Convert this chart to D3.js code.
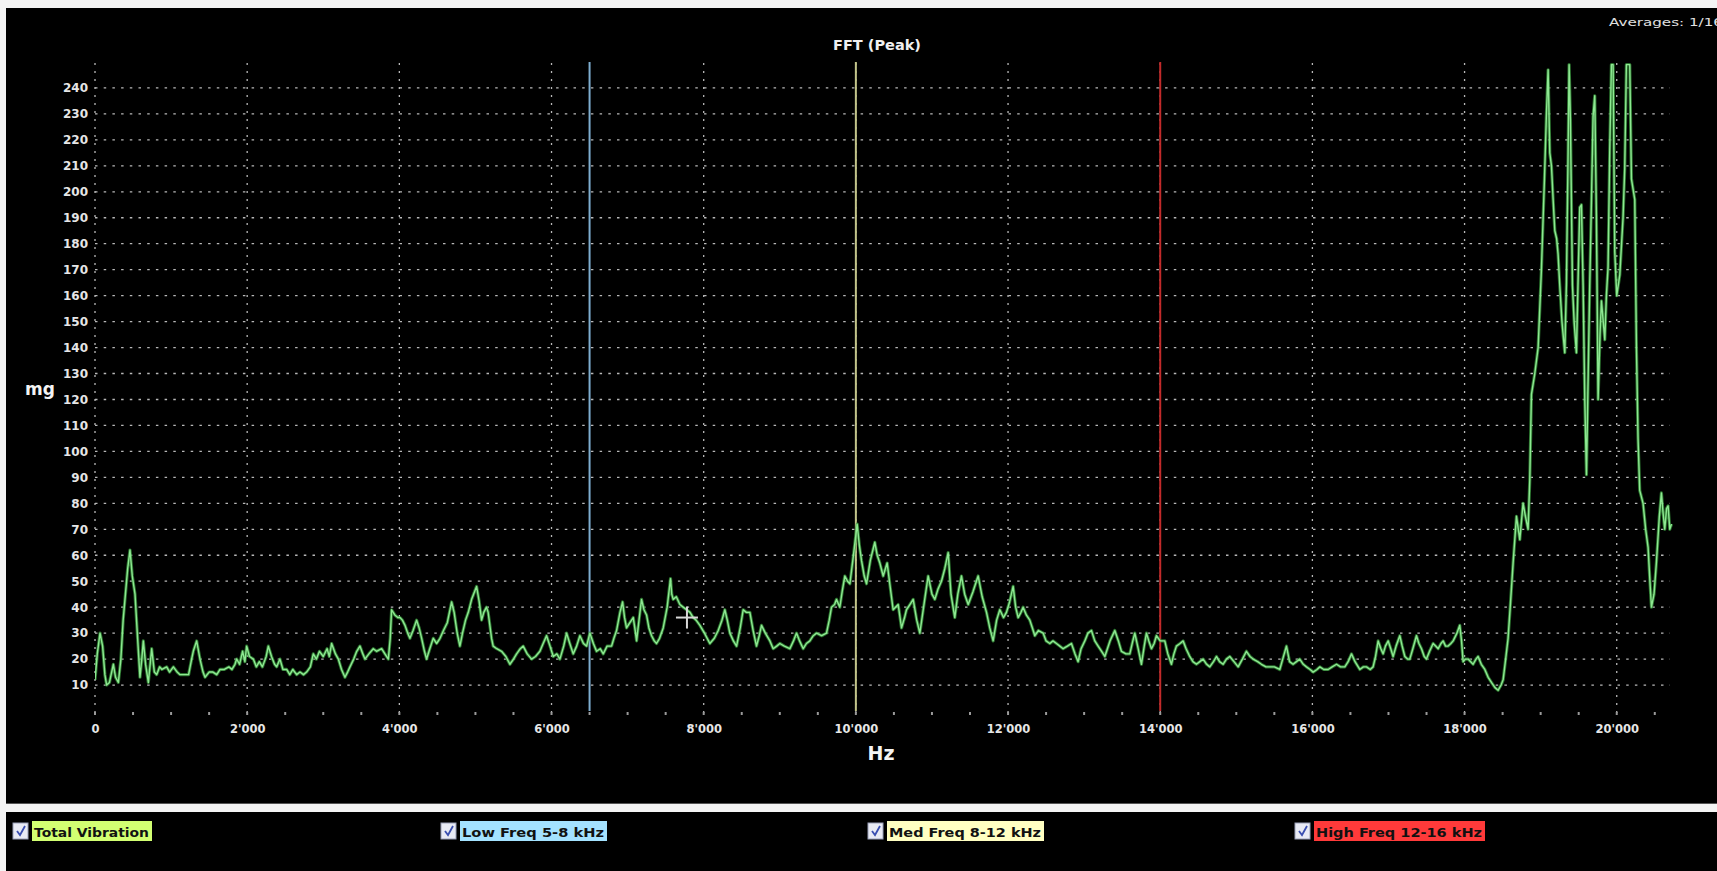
<!DOCTYPE html>
<html>
<head>
<meta charset="utf-8">
<script src="https://d3js.org/d3.v7.min.js"></script>
<style>
  html, body { margin: 0; padding: 0; background: #fff; }
  svg { display: block; }
  text { font-family: "DejaVu Sans", sans-serif; }
</style>
</head>
<body>
<div id="chart"></div>
<script>
// Frequency (Hz) and amplitude (mg)
const freqHz = [
  0, 30, 66, 100, 130, 153, 190, 241, 270, 307, 340, 370, 400, 430, 460, 490, 526, 560, 591, 615,
  635, 665, 701, 725, 745, 780, 810, 850, 880, 942, 980, 1030, 1080, 1117, 1170, 1230, 1270, 1292, 1336, 1380,
  1420, 1446, 1500, 1550, 1600, 1643, 1700, 1760, 1800, 1840, 1862, 1900, 1940, 1970, 1993, 2030, 2081, 2120, 2160, 2200,
  2250, 2278, 2320, 2360, 2387, 2431, 2470, 2519, 2560, 2600, 2650, 2694, 2740, 2781, 2830, 2869, 2910, 2950, 3000, 3050,
  3080, 3110, 3160, 3198, 3240, 3285, 3320, 3351, 3400, 3440, 3482, 3520, 3548, 3600, 3657, 3700, 3767, 3810, 3855, 3880,
  3898, 3940, 3980, 4008, 4040, 4074, 4110, 4139, 4180, 4227, 4260, 4293, 4330, 4358, 4400, 4446, 4490, 4534, 4580, 4630,
  4687, 4720, 4760, 4796, 4830, 4870, 4906, 4950, 5015, 5050, 5081, 5110, 5145, 5167, 5212, 5233, 5280, 5343, 5400, 5453,
  5500, 5541, 5590, 5628, 5680, 5738, 5790, 5847, 5890, 5935, 5980, 6023, 6070, 6110, 6160, 6198, 6240, 6285, 6330, 6373,
  6420, 6461, 6504, 6550, 6592, 6640, 6680, 6730, 6789, 6820, 6855, 6900, 6934, 6960, 6986, 7030, 7074, 7100, 7118, 7150,
  7183, 7215, 7249, 7280, 7315, 7350, 7380, 7420, 7468, 7520, 7564, 7580, 7599, 7640, 7687, 7730, 7775, 7820, 7862, 7900,
  7950, 8010, 8081, 8140, 8191, 8240, 8278, 8310, 8344, 8390, 8432, 8480, 8519, 8560, 8607, 8650, 8694, 8730, 8760, 8810,
  8870, 8913, 8960, 9001, 9060, 9132, 9180, 9220, 9260, 9308, 9350, 9395, 9440, 9483, 9550, 9614, 9650, 9680, 9720, 9745,
  9789, 9820, 9855, 9890, 9921, 9960, 10017, 10045, 10074, 10110, 10140, 10190, 10249, 10280, 10315, 10359, 10411, 10450, 10490, 10556,
  10600, 10640, 10665, 10710, 10753, 10800, 10841, 10900, 10950, 11000, 11038, 11080, 11125, 11170, 11213, 11250, 11300, 11340, 11388, 11430,
  11476, 11540, 11607, 11660, 11717, 11760, 11804, 11850, 11892, 11940, 11979, 12020, 12067, 12100, 12133, 12170, 12198, 12240, 12286, 12320,
  12352, 12400, 12461, 12500, 12549, 12590, 12636, 12680, 12724, 12780, 12833, 12880, 12921, 12960, 13009, 13050, 13096, 13140, 13184, 13230,
  13272, 13340, 13403, 13450, 13490, 13550, 13600, 13640, 13666, 13710, 13753, 13790, 13819, 13850, 13885, 13920, 13950, 14000, 14060, 14100,
  14147, 14180, 14213, 14260, 14301, 14340, 14388, 14430, 14476, 14520, 14564, 14610, 14651, 14700, 14739, 14780, 14826, 14870, 14914, 14970,
  15024, 15080, 15133, 15180, 15221, 15280, 15330, 15390, 15440, 15500, 15571, 15610, 15659, 15700, 15746, 15790, 15834, 15880, 15922, 15970,
  16010, 16060, 16098, 16150, 16207, 16260, 16317, 16370, 16426, 16470, 16514, 16560, 16623, 16670, 16711, 16760, 16798, 16830, 16864, 16900,
  16930, 16960, 16996, 17030, 17061, 17100, 17149, 17180, 17215, 17250, 17280, 17320, 17368, 17400, 17434, 17470, 17499, 17540, 17587, 17620,
  17653, 17690, 17718, 17750, 17784, 17820, 17850, 17900, 17937, 17960, 17981, 18010, 18047, 18080, 18112, 18150, 18178, 18220, 18266, 18310,
  18353, 18400, 18441, 18480, 18507, 18540, 18572, 18600, 18638, 18682, 18726, 18769, 18800, 18835, 18857, 18879, 18923, 18967, 19010, 19050,
  19076, 19098, 19120, 19142, 19164, 19186, 19210, 19229, 19251, 19280, 19317, 19339, 19361, 19374, 19391, 19418, 19440, 19470, 19514, 19536,
  19558, 19580, 19602, 19625, 19645, 19670, 19689, 19711, 19733, 19755, 19780, 19799, 19843, 19864, 19886, 19908, 19930, 19952, 19974, 20000,
  20040, 20083, 20105, 20127, 20150, 20171, 20193, 20237, 20259, 20280, 20302, 20346, 20380, 20412, 20440, 20456, 20490, 20521, 20560, 20587,
  20610, 20631, 20655, 20675, 20697, 20720
];
const amplitudeMg = [
  12, 22, 30, 25, 14, 10, 11, 18, 13, 11, 20, 35, 45, 55, 62, 52, 45, 28, 13, 20,
  27, 18, 11, 18, 24, 15, 14, 17, 16, 17, 15, 17, 15, 14, 14, 14, 20, 23, 27, 20,
  15, 13, 15, 15, 14, 16, 16, 17, 16, 18, 20, 18, 23, 19, 25, 21, 20, 17, 19, 17,
  21, 25, 21, 18, 17, 20, 16, 16, 14, 16, 14, 15, 14, 15, 17, 22, 20, 23, 21, 24,
  21, 26, 22, 20, 16, 13, 15, 17, 20, 23, 25, 22, 20, 22, 24, 23, 24, 22, 20, 28,
  39, 37, 36, 36, 35, 33, 30, 28, 31, 35, 32, 28, 23, 20, 24, 28, 26, 28, 31, 34,
  42, 38, 30, 25, 30, 35, 38, 43, 48, 42, 35, 38, 40, 38, 28, 25, 24, 23, 21, 18,
  20, 22, 24, 25, 22, 20, 21, 23, 26, 29, 25, 21, 22, 20, 25, 30, 26, 22, 25, 29,
  26, 25, 30, 26, 23, 24, 22, 25, 25, 28, 31, 38, 42, 36, 32, 34, 36, 31, 27, 35,
  43, 39, 37, 32, 29, 27, 26, 28, 32, 40, 51, 45, 43, 44, 41, 40, 39, 38, 36, 35,
  33, 30, 26, 28, 31, 35, 39, 35, 30, 27, 25, 32, 39, 38, 38, 31, 25, 29, 33, 30,
  27, 24, 25, 26, 25, 24, 27, 30, 27, 24, 26, 27, 29, 30, 29, 30, 35, 40, 41, 43,
  40, 46, 52, 50, 49, 58, 72, 64, 58, 52, 49, 58, 65, 60, 57, 52, 57, 48, 39, 41,
  32, 36, 39, 41, 43, 35, 30, 42, 52, 45, 43, 47, 50, 55, 61, 45, 36, 45, 52, 45,
  41, 46, 52, 44, 38, 32, 27, 35, 39, 36, 38, 42, 48, 40, 36, 38, 40, 37, 35, 32,
  29, 31, 30, 27, 26, 27, 26, 25, 24, 25, 26, 22, 19, 24, 27, 30, 31, 27, 25, 23,
  21, 27, 31, 27, 23, 22, 22, 27, 30, 24, 18, 25, 30, 27, 24, 26, 29, 27, 27, 22,
  18, 22, 25, 26, 27, 24, 21, 19, 18, 19, 20, 18, 17, 19, 21, 19, 18, 20, 21, 19,
  17, 20, 23, 21, 20, 19, 18, 17, 17, 17, 16, 20, 25, 19, 18, 19, 20, 18, 17, 16,
  15, 16, 17, 16, 16, 17, 18, 17, 17, 19, 22, 19, 16, 17, 17, 16, 17, 21, 27, 24,
  22, 25, 27, 24, 21, 25, 29, 25, 21, 20, 20, 24, 29, 26, 24, 21, 20, 23, 26, 25,
  24, 26, 27, 25, 25, 26, 27, 30, 33, 27, 19, 20, 20, 19, 18, 20, 21, 18, 16, 13,
  11, 9, 8, 10, 12, 20, 28, 40, 57, 75, 66, 80, 75, 70, 89, 122, 130, 140, 170, 205,
  230, 247, 215, 210, 197, 185, 182, 176, 164, 150, 138, 165, 216, 249, 228, 164, 150, 138, 194, 195,
  164, 120, 91, 130, 164, 200, 229, 237, 190, 120, 145, 158, 143, 160, 171, 216, 249, 249, 177, 160,
  168, 190, 209, 249, 249, 249, 205, 197, 140, 105, 85, 80, 70, 63, 48, 40, 45, 57, 75, 84,
  76, 70, 78, 79, 70, 72
];

const yTicks = d3.range(10, 250, 10);
const xTicks = d3.range(0, 20001, 2000);
const minorXTicks = d3.range(0, 20701, 500);

// band markers
const markerFreqs = [6500, 10000, 14000];
const markerColors = ['#7eaed0', '#c2c48a', '#c22a2a'];

const legendLabels = ['Total Vibration', 'Low Freq 5-8 kHz', 'Med Freq 8-12 kHz', 'High Freq 12-16 kHz'];
const legendColors = ['#d2ff72', '#a4e2ff', '#ffffc2', '#ff3a3a'];

const width = 1717;
const height = 871;

const x = d3.scaleLinear().domain([0, 20700]).range([95, 1670]);
const y = d3.scaleLinear().domain([0, 250]).range([711, 62]);

const svg = d3.select('#chart').append('svg')
  .attr('width', width)
  .attr('height', height);

// frame: white border strips, black panels
svg.append('rect').attr('width', width).attr('height', height).attr('fill', '#f4f4f4');
svg.append('rect').attr('x', 6).attr('y', 8).attr('width', width - 6).attr('height', 795).attr('fill', '#000');
svg.append('rect').attr('x', 6).attr('y', 812).attr('width', width - 6).attr('height', height - 812).attr('fill', '#000');
svg.append('line').attr('x1', 6).attr('x2', width).attr('y1', 803.5).attr('y2', 803.5).attr('stroke', '#555');

svg.append('defs').append('clipPath').attr('id', 'plot-clip')
  .append('rect').attr('x', 95).attr('y', 62).attr('width', 1580).attr('height', 652);

// grid
const grid = svg.append('g').attr('class', 'grid');
grid.selectAll('line.h')
  .data(yTicks)
  .enter().append('line')
    .attr('class', 'h')
    .attr('x1', x(0)).attr('x2', x(20700))
    .attr('y1', d => y(d)).attr('y2', d => y(d))
    .attr('stroke', '#b8b8b8')
    .attr('stroke-width', 1.3)
    .attr('stroke-dasharray', '2.5,6.2');

grid.selectAll('line.v')
  .data(xTicks)
  .enter().append('line')
    .attr('class', 'v')
    .attr('x1', d => x(d)).attr('x2', d => x(d))
    .attr('y1', 63).attr('y2', 718)
    .attr('stroke', '#b8b8b8')
    .attr('stroke-width', 1.3)
    .attr('stroke-dasharray', '2,6');

grid.selectAll('line.minor')
  .data(minorXTicks)
  .enter().append('line')
    .attr('class', 'minor')
    .attr('x1', d => x(d)).attr('x2', d => x(d))
    .attr('y1', 712).attr('y2', 715)
    .attr('stroke', '#9a9a9a')
    .attr('stroke-width', 2);

// axes (labels only)
const yAxis = svg.append('g')
  .attr('transform', 'translate(88,0)')
  .call(d3.axisLeft(y).tickValues(yTicks).tickSize(0).tickPadding(0));
yAxis.select('.domain').remove();
yAxis.selectAll('text')
  .attr('fill', '#e6e6e6')
  .attr('font-size', '12px')
  .attr('font-weight', 'bold')
  .attr('font-family', '"DejaVu Sans", sans-serif');

const xAxis = svg.append('g')
  .attr('transform', 'translate(0,722)')
  .call(d3.axisBottom(x).tickValues(xTicks).tickSize(0)
    .tickFormat(d => d3.format(',')(d).replace(',', "'")));
xAxis.select('.domain').remove();
xAxis.selectAll('text')
  .attr('fill', '#e6e6e6')
  .attr('font-size', '11.5px')
  .attr('font-weight', 'bold')
  .attr('font-family', '"DejaVu Sans", sans-serif');

// band marker lines
svg.append('g').selectAll('line')
  .data(markerFreqs)
  .enter().append('line')
    .attr('x1', d => x(d)).attr('x2', d => x(d))
    .attr('y1', y(250)).attr('y2', y(0))
    .attr('stroke', (d, i) => markerColors[i])
    .attr('stroke-width', 2);

// spectrum trace
const points = freqHz.map((f, i) => [f, amplitudeMg[i]]);
const line = d3.line()
  .x(d => x(d[0]))
  .y(d => y(d[1]));

const trace = svg.append('g').attr('clip-path', 'url(#plot-clip)');
trace.append('path')
  .datum(points)
  .attr('d', line)
  .attr('fill', 'none')
  .attr('stroke', '#3a9a3e')
  .attr('stroke-opacity', 0.75)
  .attr('stroke-width', 3.2)
  .attr('stroke-linejoin', 'round');
trace.append('path')
  .datum(points)
  .attr('d', line)
  .attr('fill', 'none')
  .attr('stroke', '#8ee892')
  .attr('stroke-width', 1.4)
  .attr('stroke-linejoin', 'round');

// mouse cursor cross left in the screenshot
const cur = svg.append('g')
  .attr('transform', `translate(${x(7780)},${y(36)})`)
  .attr('stroke', '#d8d8d8')
  .attr('stroke-width', 2);
cur.append('line').attr('x1', -11).attr('x2', 11).attr('y1', 0).attr('y2', 0);
cur.append('line').attr('x1', 0).attr('x2', 0).attr('y1', -11).attr('y2', 11);

// titles
svg.append('text')
  .attr('x', 877).attr('y', 50)
  .attr('text-anchor', 'middle')
  .attr('fill', '#f0f0f0')
  .attr('font-size', '14.5px')
  .attr('font-weight', 'bold')
  .text('FFT (Peak)');

svg.append('text')
  .attr('x', 1609).attr('y', 26)
  .attr('fill', '#e0e0e0')
  .attr('font-size', '11px')
  .attr('textLength', 114)
  .attr('lengthAdjust', 'spacingAndGlyphs')
  .text('Averages: 1/16');

svg.append('text')
  .attr('x', 40).attr('y', 395)
  .attr('text-anchor', 'middle')
  .attr('fill', '#f4f4f4')
  .attr('font-size', '17px')
  .attr('font-weight', 'bold')
  .text('mg');

svg.append('text')
  .attr('x', 881).attr('y', 760)
  .attr('text-anchor', 'middle')
  .attr('fill', '#f4f4f4')
  .attr('font-size', '19px')
  .attr('font-weight', 'bold')
  .text('Hz');

// legend with checkboxes
const legendX = [13, 441, 868, 1295];
const legendW = [120, 147, 157, 171];
const legend = svg.append('g').selectAll('g')
  .data(legendLabels)
  .enter().append('g')
    .attr('transform', (d, i) => `translate(${legendX[i]},821)`);

legend.append('rect')
  .attr('x', 0).attr('y', 2)
  .attr('width', 15).attr('height', 16)
  .attr('fill', '#e8eaf4')
  .attr('stroke', '#9aa0b8');
legend.append('path')
  .attr('d', 'M4,10 L7,14 L12,5')
  .attr('fill', 'none')
  .attr('stroke', '#3a4fb0')
  .attr('stroke-width', 1.8);
legend.append('rect')
  .attr('x', 19).attr('y', 0)
  .attr('width', (d, i) => legendW[i]).attr('height', 20)
  .attr('fill', (d, i) => legendColors[i]);
legend.append('text')
  .attr('x', 21).attr('y', 15.5)
  .attr('fill', '#111')
  .attr('font-size', '13px')
  .attr('font-weight', 'bold')
  .attr('textLength', (d, i) => legendW[i] - 5)
  .attr('lengthAdjust', 'spacingAndGlyphs')
  .text(d => d);
</script>
</body>
</html>
